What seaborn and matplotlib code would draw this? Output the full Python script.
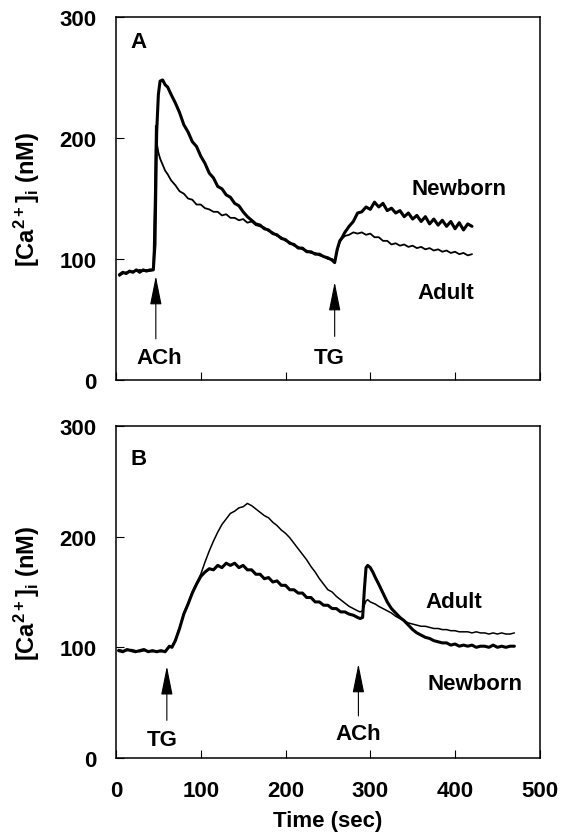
import matplotlib
matplotlib.use("Agg")
import matplotlib.pyplot as plt
import seaborn as sns

sns.set_style("white")
plt.rcParams['font.family'] = ['Liberation Sans', 'DejaVu Sans']
plt.rcParams['font.weight'] = 'bold'
plt.rcParams['axes.labelweight'] = 'bold'
plt.rcParams['text.color'] = 'black'
plt.rcParams['axes.labelcolor'] = 'black'
plt.rcParams['xtick.color'] = 'black'
plt.rcParams['ytick.color'] = 'black'
plt.rcParams['mathtext.fontset'] = 'custom'
plt.rcParams['mathtext.rm'] = 'Liberation Sans:bold'
plt.rcParams['mathtext.bf'] = 'Liberation Sans:bold'

# Panel A: ACh first, then TG
time_a = ([4, 8, 12, 16, 20, 24, 28, 32, 36, 40, 44, 46, 47, 48, 50, 52, 55, 58, 61]
          + list(range(65, 256, 5)) + [258, 261, 264, 267] + list(range(270, 421, 5)))
newborn_a = [87, 89, 88, 90, 89, 91, 89, 91, 90, 91, 91,
             112, 160, 205, 236, 247, 248, 244, 242,
             236, 229, 221, 211, 205, 197, 193, 185, 179, 171,
             167, 160, 158, 153, 151, 146, 144, 139, 135, 132,
             129, 128, 125, 124, 121, 120, 117, 116, 113, 112,
             109, 109, 106, 106, 104, 104, 102, 101, 99,
             97, 108, 115, 118,
             122, 127, 131, 138, 139, 143, 141, 147, 143, 146,
             140, 142, 138, 140, 135, 138, 133, 136, 131, 135,
             129, 133, 128, 132, 127, 131, 125, 130, 124, 129,
             127]
adult_a = [86, 88, 89, 89, 90, 90, 91, 90, 91, 90, 91,
           160, 210, 196, 188, 183, 178, 173, 170,
           165, 161, 156, 154, 150, 149, 145, 145, 142, 141,
           139, 139, 136, 137, 134, 134, 132, 133, 130, 131,
           128, 127, 126, 123, 122, 119, 118, 115, 114, 111,
           110, 108, 107, 105, 105, 103, 102, 100, 100,
           98, 107, 114, 117,
           119, 120, 122, 121, 122, 120, 121, 118, 118, 115,
           115, 112, 113, 111, 112, 110, 111, 109, 110, 108,
           109, 107, 108, 106, 107, 105, 106, 104, 105, 103,
           104]

# Panel B: TG first, then ACh
time_b = (list(range(3, 64, 5)) + [66] + list(range(70, 286, 5))
          + [288, 291, 293, 295, 297, 300, 303, 306] + list(range(310, 471, 5)))
newborn_b = [97, 96, 98, 97, 96, 97, 98, 96, 97, 96, 97, 96, 101,
             100,
             106, 117, 130, 139, 149, 157, 164, 168, 171, 170,
             174, 172, 176, 174, 176, 172, 174, 170, 170, 166,
             166, 162, 163, 159, 160, 156, 156, 152, 152, 149,
             149, 145, 145, 141, 141, 138, 138, 135, 135, 132,
             132, 130, 129, 127,
             126, 127, 152, 172, 174, 172, 168, 163,
             157, 149, 141, 135, 131, 127, 124, 120, 116, 113,
             111, 109, 108, 106, 105, 104, 104, 102, 103, 101,
             102, 101, 102, 100, 101, 101, 100, 102, 100, 101,
             100, 101, 101]
adult_b = [98, 97, 97, 98, 97, 96, 97, 97, 96, 97, 96, 97, 100,
           101,
           107, 118, 131, 140, 150, 158, 166, 177, 187, 196,
           204, 211, 216, 221, 223, 226, 227, 230, 228, 225,
           222, 219, 217, 213, 210, 206, 203, 199, 194, 189,
           184, 179, 173, 168, 162, 157, 152, 150, 146, 143,
           140, 137, 135, 133,
           132, 133, 138, 142, 143, 141, 140, 139,
           137, 135, 133, 131, 128, 126, 124, 122, 121, 120,
           119, 119, 118, 117, 117, 116, 116, 115, 115, 114,
           114, 114, 113, 114, 113, 113, 112, 113, 112, 113,
           112, 112, 113]

y_ticks = [0, 100, 200, 300]
x_ticks = [0, 100, 200, 300, 400, 500]

fig = plt.figure(figsize=(5.7, 8.37), dpi=100)
ax_a = fig.add_axes([0.2035, 0.5448, 0.7435, 0.4337])
ax_b = fig.add_axes([0.2035, 0.0932, 0.7435, 0.3967])

sns.lineplot(x=time_a, y=adult_a, ax=ax_a, color='black', lw=1.3)
sns.lineplot(x=time_a, y=newborn_a, ax=ax_a, color='black', lw=2.2)
sns.lineplot(x=time_b, y=adult_b, ax=ax_b, color='black', lw=1.1)
sns.lineplot(x=time_b, y=newborn_b, ax=ax_b, color='black', lw=2.2)

arrow = dict(arrowstyle='-|>,head_length=1.0,head_width=0.2', color='black',
             lw=0.8, mutation_scale=18, shrinkA=0, shrinkB=0)

# panel A notes
ax_a.text(26, 280, 'A', fontsize=16, ha='center', va='center')
ax_a.text(405, 158, 'Newborn', fontsize=16, ha='center', va='center')
ax_a.text(389, 72, 'Adult', fontsize=16, ha='center', va='center')
ax_a.text(51, 19, 'ACh', fontsize=16, ha='center', va='center')
ax_a.text(252, 19, 'TG', fontsize=16, ha='center', va='center')
ax_a.annotate('', xy=(47, 86), xytext=(47, 34), arrowprops=arrow)
ax_a.annotate('', xy=(258, 81), xytext=(258, 36), arrowprops=arrow)

# panel B notes
ax_b.text(27, 271, 'B', fontsize=16, ha='center', va='center')
ax_b.text(398, 141, 'Adult', fontsize=16, ha='center', va='center')
ax_b.text(423, 67, 'Newborn', fontsize=16, ha='center', va='center')
ax_b.text(54, 17, 'TG', fontsize=16, ha='center', va='center')
ax_b.text(286, 22, 'ACh', fontsize=16, ha='center', va='center')
ax_b.annotate('', xy=(60, 83), xytext=(60, 34), arrowprops=arrow)
ax_b.annotate('', xy=(286, 85), xytext=(286, 38), arrowprops=arrow)

for ax in (ax_a, ax_b):
    ax.set_xlim(0, 500)
    ax.set_ylim(0, 300)
    ax.set_xticks(x_ticks)
    ax.set_yticks(y_ticks)
    ax.tick_params(direction='in', length=6, width=0.8, labelsize=16,
                   bottom=True, left=True)
    ax.tick_params(axis='y', pad=14)
    ax.tick_params(axis='x', pad=16)
    for s in ax.spines.values():
        s.set_visible(True)
        s.set_linewidth(1.1)
        s.set_color('black')
    ax.set_ylabel(r'$\mathbf{[Ca^{2+}]_i}$ (nM)', fontsize=17, fontweight='bold')
    ax.yaxis.set_label_coords(-0.175, 0.5)

ax_a.tick_params(axis='x', labelbottom=False)
ax_b.set_xlabel('Time (sec)', fontsize=16, fontweight='bold', labelpad=6)

fig.savefig('out.png', dpi=100)
